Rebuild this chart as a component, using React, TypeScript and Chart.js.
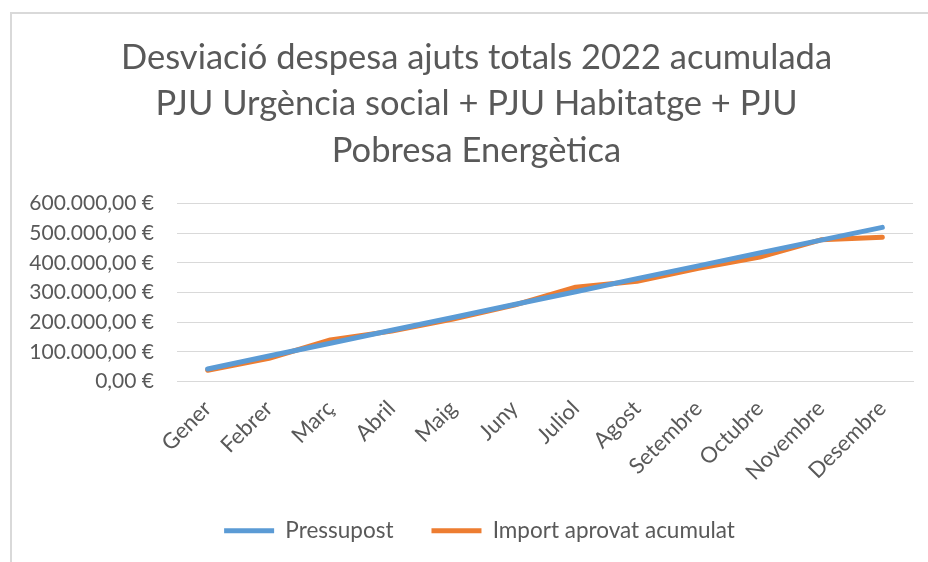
import React, { useEffect, useRef } from "react";
import { Chart, registerables } from "chart.js";

Chart.register(...registerables);

const titleLines = [
  "Desviació despesa ajuts totals 2022 acumulada",
  "PJU Urgència social + PJU Habitatge + PJU",
  "Pobresa Energètica",
];
const months = [
  "Gener", "Febrer", "Març", "Abril", "Maig", "Juny",
  "Juliol", "Agost", "Setembre", "Octubre", "Novembre", "Desembre",
];
const pressupost = [42000, 86000, 129000, 173000, 216000, 260000, 303000, 347000, 390000, 434000, 477000, 520000];
const importAprovat = [38000, 78000, 140000, 170000, 211000, 258000, 318000, 338000, 382000, 420000, 478000, 487000];
const yMin = 0;
const yMax = 600000;
const yStep = 100000;

function fmtEuro(v: number): string {
  const s = Math.round(v).toString().replace(/\B(?=(\d{3})+(?!\d))/g, ".");
  return s + ",00 €";
}

const shiftBoxes = {
  id: "shiftBoxes",
  afterLayout(chart: any) {
    const t = chart.titleBlock;
    if (t) { t.left += 10; t.right += 10; }
    const l = chart.legend;
    if (l) { l.left += 13; l.right += 13; }
  },
};

export default function App() {
  const ref = useRef<HTMLCanvasElement | null>(null);
  useEffect(() => {
    if (!ref.current) return;
    const font = "Lato";
    Chart.defaults.font.family = font;
    const chart = new Chart(ref.current, {
      type: "line",
      data: {
        labels: months,
        datasets: [
          {
            label: "Pressupost",
            data: pressupost,
            borderColor: "#5B9BD5",
            backgroundColor: "#5B9BD5",
            borderWidth: 5,
            borderCapStyle: "round",
            borderJoinStyle: "round",
            pointRadius: 0,
            tension: 0,
          },
          {
            label: "Import aprovat acumulat",
            data: importAprovat,
            borderColor: "#ED7D31",
            backgroundColor: "#ED7D31",
            borderWidth: 5,
            borderCapStyle: "round",
            borderJoinStyle: "round",
            pointRadius: 0,
            tension: 0,
          },
        ],
      },
      options: {
        animation: false,
        responsive: false,
        maintainAspectRatio: false,
        layout: { padding: { left: 20, right: 15, top: 0, bottom: 10 } },
        plugins: {
          title: {
            display: true,
            text: titleLines,
            color: "#595959",
            font: { family: font, size: 34.5, weight: "normal", lineHeight: 1.34 },
            padding: { top: 35, bottom: 30 },
          },
          legend: {
            position: "bottom",
            labels: {
              usePointStyle: true,
              pointStyle: "line",
              pointStyleWidth: 50,
              color: "#595959",
              font: { family: font, size: 22.5, style: "normal", weight: "normal" },
              padding: 38,
            },
          },
          tooltip: { enabled: false },
        },
        scales: {
          x: {
            offset: true,
            afterFit: (s: any) => { s.height = 100; },
            grid: { display: false, drawTicks: false },
            border: { display: true, color: "#d9d9d9", width: 1 },
            ticks: {
              color: "#595959",
              font: { family: font, size: 22 },
              maxRotation: 45,
              minRotation: 45,
              padding: 14,
              autoSkip: false,
            },
          },
          y: {
            min: yMin,
            max: yMax,
            afterFit: (s: any) => { s.width = 157; },
            grid: { color: "#d9d9d9", lineWidth: 1, drawTicks: false },
            border: { display: false },
            ticks: {
              stepSize: yStep,
              autoSkip: false,
              color: "#595959",
              font: { family: font, size: 21 },
              padding: 23,
              callback: (v: any) => fmtEuro(Number(v)),
            },
          },
        },
      },
      plugins: [shiftBoxes],
    });
    return () => chart.destroy();
  }, []);
  return (
    <div style={{ position: "fixed", left: 0, top: 0, width: 928, height: 562, background: "#fff" }}>
      <div
        style={{
          position: "absolute",
          left: 10,
          top: 12,
          width: 930,
          height: 560,
          borderLeft: "2px solid #d9d9d9",
          borderTop: "2px solid #d9d9d9",
        }}
      />
      <canvas ref={ref} width={928} height={562} style={{ position: "absolute", left: 0, top: 0 }} />
    </div>
  );
}
